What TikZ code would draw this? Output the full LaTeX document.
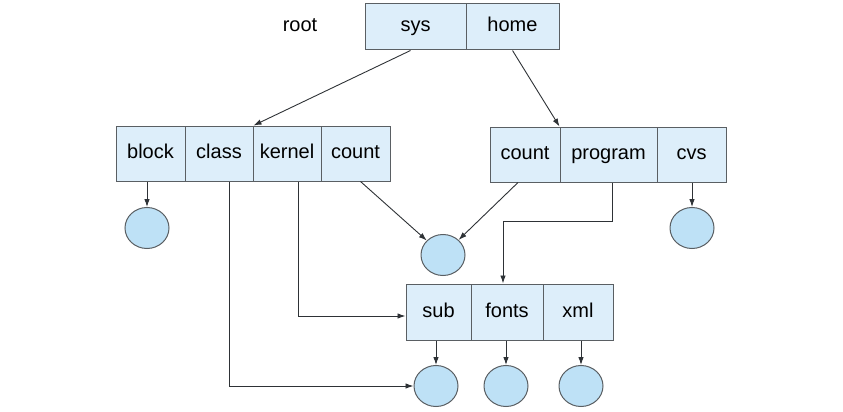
\documentclass[tikz,border=0pt]{standalone}
\usepackage{fontspec}
\setmainfont{Liberation Sans}
\usetikzlibrary{shapes.geometric,arrows.meta,calc}
\definecolor{cellfill}{HTML}{DDEEFA}
\definecolor{dotfill}{HTML}{BEE1F6}
\definecolor{edge}{HTML}{5A5F63}
\definecolor{wire}{HTML}{2E3236}
\begin{document}
\begin{tikzpicture}[x=1pt,y=-1pt,
  cell/.style={draw=edge,fill=cellfill,line width=1pt,inner sep=0pt,
    font=\fontsize{20}{22}\selectfont,text=black,text height=14pt,text depth=4pt},
  dot/.style={draw=edge,fill=dotfill,line width=1pt,ellipse,inner sep=0pt,
    minimum width=44pt,minimum height=41pt},
  conn/.style={draw=wire,line width=0.9pt,-{Latex[length=8pt,width=5.5pt]}}]
\useasboundingbox (0,0) rectangle (843,412);
% top directory
\node[cell,minimum width=101pt,minimum height=46pt] (sys)  at (415.5,27) {sys};
\node[cell,minimum width=93pt,minimum height=46pt]  (home) at (512.5,27) {home};
\node[font=\fontsize{20}{22}\selectfont,text height=14pt,text depth=4pt] (root) at (300,27) {root};
% left directory
\node[cell,minimum width=69pt,minimum height=55pt] (block)  at (150.5,153.5) {block};
\node[cell,minimum width=68pt,minimum height=55pt] (class)  at (219,153.5) {class};
\node[cell,minimum width=68pt,minimum height=55pt] (kernel) at (287,153.5) {kernel};
\node[cell,minimum width=69pt,minimum height=55pt] (count)  at (355.5,153.5) {count};
% right directory
\node[cell,minimum width=70pt,minimum height=55pt] (count2)  at (525,154.5) {count};
\node[cell,minimum width=97pt,minimum height=55pt] (program) at (608.5,154.5) {program};
\node[cell,minimum width=69pt,minimum height=55pt] (cvs)     at (691.5,154.5) {cvs};
% bottom directory
\node[cell,minimum width=65pt,minimum height=56pt] (sub)   at (438.5,312) {sub};
\node[cell,minimum width=72pt,minimum height=56pt] (fonts) at (507,312) {fonts};
\node[cell,minimum width=70pt,minimum height=56pt] (xml)   at (578,312) {xml};
% files
\node[dot] (c1) at (147,228) {};
\node[dot] (c2) at (443,255) {};
\node[dot] (c3) at (692,228) {};
\node[dot] (c4) at (436,386) {};
\node[dot] (c5) at (506,386) {};
\node[dot] (c6) at (581,386) {};
% connectors
\draw[conn] ([xshift=-5pt]sys.south) -- (class.north east);
\draw[conn] (home.south) -- (program.north west);
\draw[conn] ([xshift=5pt]count.south) -- (c2);
\draw[conn] ([xshift=-7pt]count2.south) -- (c2);
\draw[conn] ([xshift=3.5pt]program.south) -- ++(0,39) -| ([xshift=-4pt]fonts.north);
\draw[conn] ([xshift=11pt]kernel.south) |- ([yshift=-4pt]sub.west);
\draw[conn] ([xshift=10pt]class.south) |- (c4.west);
\draw[conn] (c1.north |- block.south) -- (c1.north);
\draw[conn] (c3.north |- cvs.south) -- (c3.north);
\draw[conn] (c4.north |- sub.south) -- (c4.north);
\draw[conn] (c5.north |- fonts.south) -- (c5.north);
\draw[conn] (c6.north |- xml.south) -- (c6.north);
\end{tikzpicture}
\end{document}
